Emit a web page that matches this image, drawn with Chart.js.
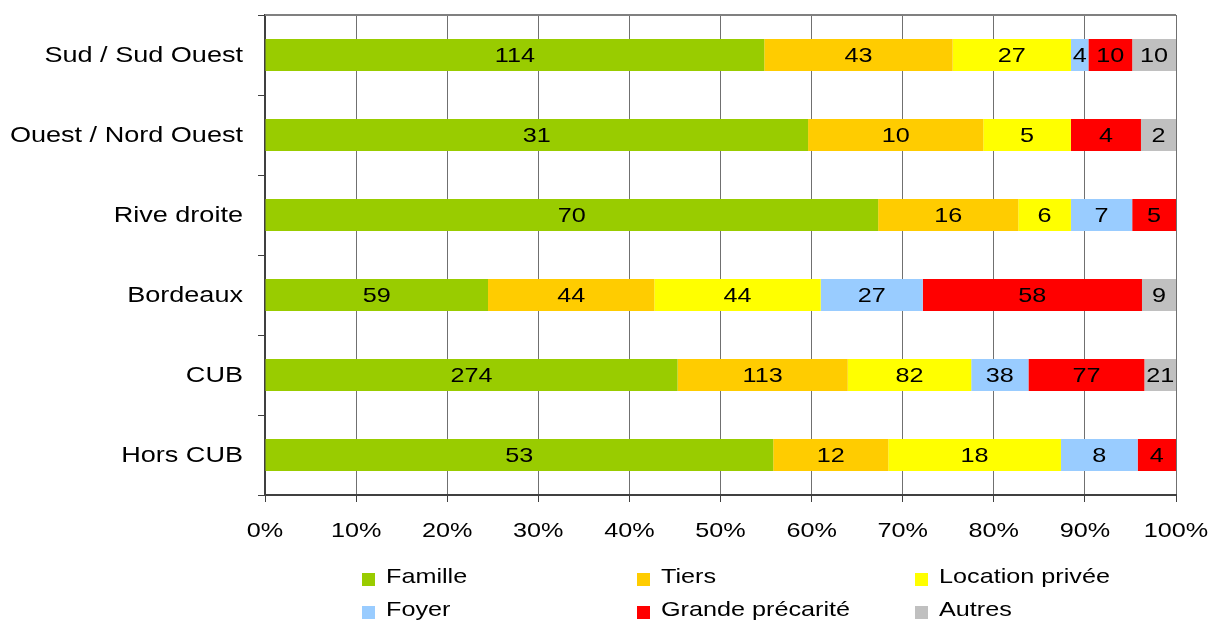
<!DOCTYPE html>
<html>
<head>
<meta charset="utf-8">
<script src="https://cdn.jsdelivr.net/npm/chart.js@4/dist/chart.umd.min.js"></script>
<style>
html,body{margin:0;padding:0;background:#fff;}
#wrap{width:1215px;height:621px;position:relative;}
</style>
</head>
<body>
<div id="wrap"><canvas id="c" width="1215" height="621"></canvas></div>
<script>
const categories = ["Sud / Sud Ouest", "Ouest / Nord Ouest", "Rive droite", "Bordeaux", "CUB", "Hors CUB"];
const seriesNames = ["Famille", "Tiers", "Location privée", "Foyer", "Grande précarité", "Autres"];
const famille = [114, 31, 70, 59, 274, 53];
const tiers = [43, 10, 16, 44, 113, 12];
const locationPrivee = [27, 5, 6, 44, 82, 18];
const foyer = [4, 0, 7, 27, 38, 8];
const grandePrecarite = [10, 4, 5, 58, 77, 4];
const autres = [10, 2, 0, 9, 21, 0];
const seriesColors = ["#99CC00", "#FFCC00", "#FFFF00", "#99CCFF", "#FF0000", "#C0C0C0"];
const xTicks = [0, 10, 20, 30, 40, 50, 60, 70, 80, 90, 100];

const raw = [famille, tiers, locationPrivee, foyer, grandePrecarite, autres];
const totals = categories.map((_, i) => raw.reduce((s, a) => s + a[i], 0));

const FONT = "'Liberation Sans', Arial, sans-serif";

function drawText(ctx, text, x, y, align, size, stretch) {
  ctx.save();
  ctx.translate(x, y);
  ctx.scale(stretch, 1);
  ctx.font = size + "px " + FONT;
  ctx.fillStyle = "#000";
  ctx.textAlign = align;
  ctx.textBaseline = "middle";
  ctx.fillText(text, 0, 0);
  ctx.restore();
}

const datasets = raw.map((arr, k) => ({
  label: seriesNames[k],
  data: arr.map((v, i) => v / totals[i] * 100),
  rawValues: arr,
  backgroundColor: seriesColors[k],
  borderWidth: 0,
  barPercentage: 0.4,
  categoryPercentage: 1.0
}));

const labelPlugin = {
  id: 'segLabels',
  afterDatasetsDraw(chart) {
    const ctx = chart.ctx;
    chart.data.datasets.forEach((ds, di) => {
      const meta = chart.getDatasetMeta(di);
      meta.data.forEach((bar, i) => {
        const v = ds.rawValues[i];
        if (!v) return;
        drawText(ctx, String(v), (bar.x + bar.base) / 2, bar.y + 1, "center", 21, 1.2);
      });
    });
  }
};

const axisLabelPlugin = {
  id: 'axisLabels',
  afterDraw(chart) {
    const ctx = chart.ctx;
    const ys = chart.scales.y, xs = chart.scales.x;
    categories.forEach((c, i) => {
      drawText(ctx, c, ys.right - 22, ys.getPixelForValue(i) + 1, "right", 22, 1.23);
    });
    xTicks.forEach(v => {
      drawText(ctx, v + '%', xs.getPixelForValue(v), xs.top + 36, "center", 21, 1.2);
    });
  }
};

const framePlugin = {
  id: 'frame',
  beforeDatasetsDraw(chart) {
    const a = chart.chartArea, ctx = chart.ctx;
    ctx.save();
    ctx.strokeStyle = "#808080";
    ctx.lineWidth = 2;
    ctx.beginPath();
    ctx.moveTo(a.left, a.top);
    ctx.lineTo(a.right, a.top);
    ctx.stroke();
    ctx.restore();
  }
};

const legendPlugin = {
  id: 'customLegend',
  afterDraw(chart) {
    const ctx = chart.ctx;
    const colX = [362, 637, 915];
    const rowY = [577, 610];
    seriesNames.forEach((name, k) => {
      const x = colX[k % 3], y = rowY[Math.floor(k / 3)];
      ctx.save();
      ctx.fillStyle = seriesColors[k];
      ctx.fillRect(x, y - 4, 13, 13);
      ctx.restore();
      drawText(ctx, name, x + 24, y, "left", 21, 1.2);
    });
  }
};

new Chart(document.getElementById('c'), {
  type: 'bar',
  data: { labels: categories, datasets },
  options: {
    indexAxis: 'y',
    responsive: false,
    animation: false,
    layout: { padding: { top: 15, right: 39, left: 0, bottom: 0 } },
    plugins: { legend: { display: false }, tooltip: { enabled: false }, title: { display: false } },
    scales: {
      x: {
        stacked: true,
        min: 0, max: 100,
        afterBuildTicks(scale) { scale.ticks = xTicks.map(v => ({ value: v })); },
        afterFit(scale) { scale.height = 621 - 495; },
        ticks: { display: false },
        grid: { color: '#707070', lineWidth: 1, tickLength: 7, tickColor: '#404040' },
        border: { color: '#404040', width: 2 }
      },
      y: {
        stacked: true,
        afterFit(scale) { scale.width = 265; },
        ticks: { display: false },
        grid: { drawOnChartArea: false, offset: true, tickLength: 7, color: '#404040', lineWidth: 1 },
        border: { color: '#404040', width: 2 }
      }
    }
  },
  plugins: [framePlugin, labelPlugin, axisLabelPlugin, legendPlugin]
});
</script>
</body>
</html>
